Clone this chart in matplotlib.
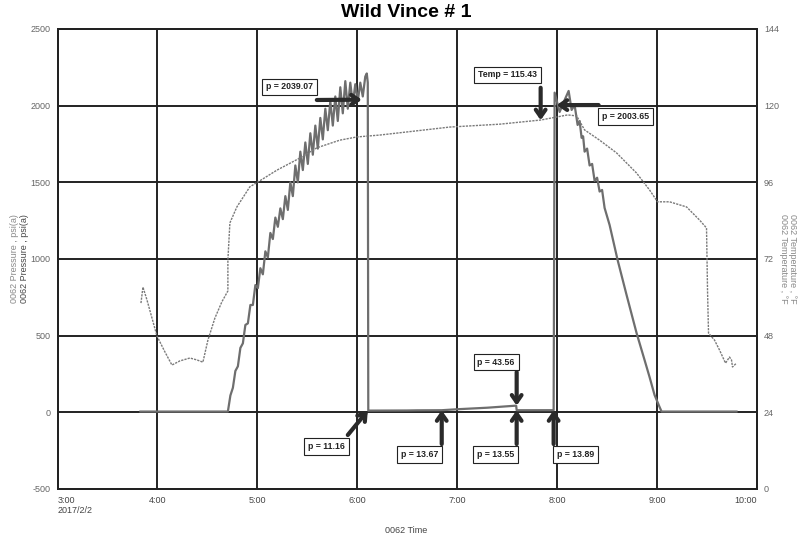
import matplotlib
matplotlib.use("Agg")
import matplotlib.pyplot as plt

plt.rcParams['font.family'] = ['Liberation Sans', 'DejaVu Sans']

# --- data (time in hours after midnight, 2017/2/2) ---
press_time = [3.83, 4.705, 4.73, 4.755, 4.78, 4.805, 4.83, 4.855, 4.88, 4.905, 4.93,
              4.955, 4.98, 5.005, 5.03, 5.055, 5.08, 5.105, 5.13, 5.155, 5.18,
              5.205, 5.23, 5.255, 5.28, 5.305, 5.33, 5.355, 5.38, 5.405, 5.43,
              5.455, 5.48, 5.505, 5.53, 5.555, 5.58, 5.605, 5.63, 5.655, 5.68,
              5.705, 5.73, 5.755, 5.78, 5.805, 5.83, 5.855, 5.88, 5.905, 5.93,
              5.955, 5.98, 6.005, 6.03, 6.055, 6.08, 6.095, 6.105, 6.11,
              6.5, 6.6, 6.845, 7.0, 7.3, 7.59, 7.595, 7.965, 7.975,
              8.025, 8.075, 8.115, 8.145, 8.175, 8.205, 8.225, 8.245, 8.26, 8.275,
              8.3, 8.325, 8.35, 8.375, 8.4, 8.425, 8.45, 8.475, 8.525, 8.605,
              8.695, 8.795, 8.875, 8.925, 8.975, 9.025, 9.045, 9.795]
press_val = [5, 5, 110, 160, 270, 300, 420, 450, 570, 580, 700,
             700, 830, 810, 940, 900, 1050, 1010, 1170, 1130, 1270,
             1210, 1330, 1260, 1410, 1320, 1500, 1410, 1610, 1500, 1700,
             1580, 1760, 1620, 1820, 1680, 1870, 1720, 1920, 1780, 1980,
             1840, 2030, 1870, 2060, 1900, 2120, 1950, 2160, 1980, 2150,
             2010, 2140, 2030, 2150, 2060, 2190, 2210, 2150, 11.16,
             12, 13, 13.67, 20, 30, 43.56, 13.55, 13.89, 2085,
             1959, 2037, 2096, 1972, 2004, 1874, 1900, 1790, 1800, 1700,
             1720, 1610, 1620, 1510, 1530, 1440, 1450, 1333, 1222, 994,
             765, 517, 341, 230, 113, 35, 5, 5]

temp_time = [3.835, 3.855, 3.895, 3.995, 4.075, 4.145, 4.225, 4.325, 4.395, 4.455,
             4.505, 4.575, 4.645, 4.705, 4.705, 4.725, 4.795, 4.925, 5.005, 5.195,
             5.425, 5.595, 5.825, 5.995, 6.225, 6.925, 7.425, 7.835, 8.105, 8.195,
             8.275, 8.425, 8.595, 8.795, 8.925, 9.005, 9.125, 9.295, 9.425, 9.495,
             9.505, 9.515, 9.575, 9.625, 9.685, 9.725, 9.745, 9.755, 9.795]
temp_val = [58.2, 63.2, 59.2, 47.9, 42.9, 38.8, 40.1, 41.0, 40.4, 39.7,
            46.6, 53.5, 58.6, 62.0, 71.7, 83.3, 88.3, 94.6, 96.1, 99.8,
            103.6, 106.8, 109.2, 110.2, 110.8, 113.3, 114.2, 115.5, 117.1, 116.8,
            112.4, 109.2, 105.2, 98.9, 93.6, 89.9, 89.9, 88.3, 84.2, 81.7,
            62.3, 48.8, 46.6, 43.5, 39.4, 41.3, 40.4, 38.2, 39.4]

x_ticks = [3, 4, 5, 6, 7, 8, 9, 10]
x_labels = ["3:00\n2017/2/2", "4:00", "5:00", "6:00", "7:00", "8:00", "9:00", "10:00"]
p_ticks = [-500, 0, 500, 1000, 1500, 2000, 2500]
t_ticks = [0, 24, 48, 72, 96, 120, 144]

# annotations: text, target (time, value), text box centre, arrow start
ann_text = ["p = 2039.07", "p = 2003.65", "p = 43.56", "p = 11.16",
            "p = 13.67", "p = 13.55", "p = 13.89"]
ann_time = [6.045, 7.995, 7.595, 6.105, 6.845, 7.595, 7.965]
ann_val = [2039.07, 2003.65, 43.56, 11.16, 13.67, 13.55, 13.89]
ann_box = [(5.32, 2122), (8.685, 1929), (7.39, 328), (5.69, -223),
           (6.625, -275), (7.385, -275), (8.185, -275)]
ann_start = [(5.595, 2037), (8.415, 2004), (7.595, 263), (5.905, -148),
             (6.845, -207), (7.595, -207), (7.965, -207)]

temp_note = "Temp = 115.43"
temp_note_time = 7.835
temp_note_val = 115.43

fig = plt.figure(figsize=(8.09, 5.39), dpi=100)
ax = fig.add_axes([0.0711, 0.0928, 0.8646, 0.8534])
ax2 = ax.twinx()

ax.set_xlim(3, 10)
ax.set_ylim(-500, 2500)
ax2.set_ylim(0, 144)

ax.set_xticks(x_ticks)
ax.set_xticklabels(x_labels, fontsize=6.5, color='#444')
labs = ax.get_xticklabels()
labs[0].set_ha('left')
labs[-1].set_ha('right')
ax.set_yticks(p_ticks)
ax.set_yticklabels([str(v) for v in p_ticks], fontsize=6.5, color='#666')
ax2.set_yticks(t_ticks)
ax2.set_yticklabels([str(v) for v in t_ticks], fontsize=6.5, color='#666')
ax.tick_params(length=0, pad=5)
ax2.tick_params(length=0, pad=5)

ax.grid(True, color='#222', lw=1.4)
for a in (ax, ax2):
    for s in a.spines.values():
        s.set_color('#222')
        s.set_linewidth(1.4)

ax.plot(press_time, press_val, color='#6e6e6e', lw=1.6, zorder=3)
ax2.plot(temp_time, temp_val, color='#7a7a7a', lw=1.0, ls=(0, (1.6, 0.8)), zorder=3)

box = dict(boxstyle='square,pad=0.45', fc='white', ec='#222', lw=0.8)
arr = dict(arrowstyle='->,head_length=0.5,head_width=0.35', color='#2a2a2a', lw=3.0,
           shrinkA=0, shrinkB=0)

for txt, t, v, bx, st in zip(ann_text, ann_time, ann_val, ann_box, ann_start):
    ax.annotate('', xy=(t, v), xytext=st, arrowprops=arr, zorder=5)
    ax.text(bx[0], bx[1], txt, ha='center', va='center', fontsize=6.3,
            fontweight='bold', color='#222', bbox=box, zorder=6)

# temperature note (arrow down onto temperature curve)
ax2.annotate('', xy=(temp_note_time, temp_note_val), xytext=(temp_note_time, 125.6),
             arrowprops=arr, zorder=5)
ax2.text(7.5, 129.6, temp_note, ha='center', va='center', fontsize=6.3,
         fontweight='bold', color='#222', bbox=box, zorder=6)

fig.text(0.5025, 0.976, "Wild Vince # 1", ha='center', va='center',
         fontsize=14, fontweight='bold')
fig.text(0.5025, 0.015, "0062 Time", ha='center', va='center', fontsize=6.5, color='#444')

fig.text(0.0185, 0.52, "0062 Pressure , psi(a)", rotation=90, ha='center', va='center',
         fontsize=6.5, color='#888')
fig.text(0.030, 0.52, "0062 Pressure , psi(a)", rotation=90, ha='center', va='center',
         fontsize=6.5, color='#444')
fig.text(0.968, 0.52, "0062 Temperature , °F", rotation=270, ha='center', va='center',
         fontsize=6.5, color='#888')
fig.text(0.980, 0.52, "0062 Temperature , °F", rotation=270, ha='center', va='center',
         fontsize=6.5, color='#888')

fig.savefig("out.png", dpi=100)
